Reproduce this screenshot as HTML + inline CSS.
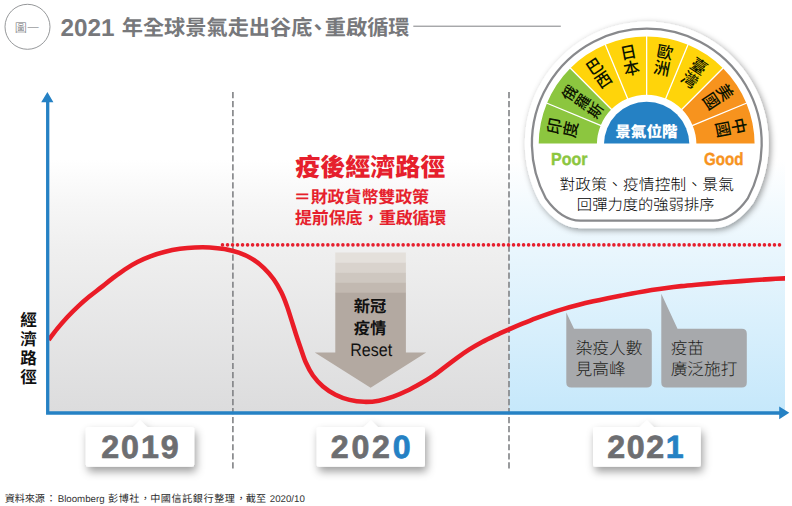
<!DOCTYPE html>
<html lang="zh-Hant">
<head>
<meta charset="utf-8">
<title>2021 年全球景氣走出谷底、重啟循環</title>
<style>
html,body{margin:0;padding:0;background:#fff;}
body{width:792px;height:506px;overflow:hidden;font-family:"Liberation Sans","Noto Sans CJK TC",sans-serif;}
svg{display:block;}
svg text{font-family:"Liberation Sans","Noto Sans CJK TC",sans-serif;text-rendering:geometricPrecision;}
</style>
</head>
<body>
<svg width="792" height="506" viewBox="0 0 792 506">
<defs>
<linearGradient id="gg" x1="0" y1="0" x2="0" y2="1"><stop offset="0" stop-color="#ffffff"/><stop offset="0.18" stop-color="#f6f6f6"/><stop offset="0.36" stop-color="#efefef"/><stop offset="1" stop-color="#dcdcdd"/></linearGradient>
<linearGradient id="gb" x1="0" y1="0" x2="0" y2="1"><stop offset="0" stop-color="#ffffff"/><stop offset="0.18" stop-color="#f3fafe"/><stop offset="0.36" stop-color="#e9f6fd"/><stop offset="1" stop-color="#c6e8fb"/></linearGradient>
<filter id="sh1" x="-10%" y="-10%" width="120%" height="125%"><feDropShadow dx="1.8" dy="2" stdDeviation="3" flood-color="#000" flood-opacity="0.4"/></filter>
<filter id="sh2" x="-20%" y="-40%" width="140%" height="220%"><feDropShadow dx="2" dy="4.8" stdDeviation="4.5" flood-color="#000" flood-opacity="0.38"/></filter>
<clipPath id="fanclip"><rect x="530" y="30" width="232" height="113.6"/></clipPath>
<clipPath id="plotclip"><rect x="48" y="80" width="737" height="340"/></clipPath>
</defs>
<rect x="49" y="160" width="460" height="252" fill="url(#gg)"/>
<rect x="509" y="160" width="276" height="252" fill="url(#gb)"/>
<path d="M232.9 92V469M509 92V469" stroke="#808285" stroke-width="1.6" stroke-dasharray="6.2 2.83" fill="none"/>
<g>
<rect x="335.3" y="252.5" width="70.6" height="10.3" fill="#e4e0db"/>
<rect x="335.3" y="262.6" width="70.6" height="10.3" fill="#d9d3cd"/>
<rect x="335.3" y="272.7" width="70.6" height="10.3" fill="#cec7c0"/>
<rect x="335.3" y="282.8" width="70.6" height="10.3" fill="#c2b9b1"/>
<path d="M335.3 292.8H405.9V352.6H426.2L370.6 387.8L314.8 352.6H335.3Z" fill="#b3a9a1"/>
</g>
<text x="353.78" y="312.39" font-size="16.3" font-weight="bold" fill="#111">新冠</text>
<text x="353.83" y="333.69" font-size="16.3" font-weight="bold" fill="#111">疫情</text>
<text x="350.2" y="355.8" font-size="18" fill="#111" textLength="42" lengthAdjust="spacingAndGlyphs">Reset</text>
<path d="M222.5 244.9H780" stroke="#e61f2d" stroke-width="3.6" stroke-linecap="round" stroke-dasharray="0 5.018" fill="none"/>
<g fill="#a7a9ac">
<path d="M566.3 312.5V382.5Q566.3 387.5 571.3 387.5H646.8Q651.8 387.5 651.8 382.5V333.8Q651.8 328.8 646.8 328.8H574Z"/>
<path d="M661.3 293.8V382.5Q661.3 387.5 666.3 387.5H741.8Q746.8 387.5 746.8 382.5V333.8Q746.8 328.8 741.8 328.8H677.5Z"/>
</g>
<text x="575.68" y="354.25" font-size="16.7" font-weight="300" fill="#231f20">染疫人數</text>
<text x="575.55" y="375.15" font-size="16.7" font-weight="300" fill="#231f20">見高峰</text>
<text x="670.63" y="354.25" font-size="16.7" font-weight="300" fill="#231f20">疫苗</text>
<text x="670.7" y="375.15" font-size="16.7" font-weight="300" fill="#231f20">廣泛施打</text>
<path d="M48.64 339.99C50.12 338.06 54.38 332.24 57.51 328.41C60.64 324.58 63.99 320.67 67.42 316.99C70.85 313.31 74.46 309.74 78.11 306.34C81.76 302.94 85.53 299.72 89.31 296.6C93.09 293.48 96.92 290.64 100.78 287.61C104.64 284.58 108.51 281.4 112.49 278.4C116.47 275.4 120.48 272.32 124.64 269.59C128.8 266.86 133.04 264.28 137.44 262.03C141.84 259.78 146.39 257.79 151.03 256.07C155.67 254.35 160.45 252.92 165.27 251.72C170.09 250.52 175.02 249.59 179.95 248.87C184.88 248.15 189.88 247.66 194.85 247.41C199.82 247.16 204.82 247.12 209.76 247.4C214.7 247.68 219.64 248.19 224.47 249.07C229.3 249.95 234.13 251.05 238.73 252.68C243.33 254.31 247.88 256.29 252.09 258.85C256.3 261.41 260.36 264.61 263.99 268.06C267.62 271.51 270.98 275.5 273.87 279.55C276.76 283.6 279.16 287.95 281.33 292.35C283.5 296.75 285.21 301.33 286.91 305.95C288.61 310.57 289.99 315.33 291.51 320.08C293.03 324.83 294.47 329.66 296.03 334.43C297.59 339.2 299.24 344.01 300.87 348.7C302.5 353.38 303.83 358.08 305.84 362.54C307.85 367 310.08 371.5 312.94 375.49C315.8 379.48 319.24 383.28 322.99 386.48C326.75 389.68 331.06 392.48 335.47 394.71C339.88 396.94 344.67 398.68 349.46 399.87C354.25 401.06 359.27 401.7 364.18 401.83C369.09 401.96 374.07 401.5 378.91 400.65C383.75 399.8 388.54 398.35 393.22 396.71C397.91 395.07 402.52 392.97 407.02 390.81C411.52 388.65 415.91 386.2 420.2 383.75C424.49 381.3 428.63 378.84 432.73 376.08C436.83 373.31 440.81 370.16 444.82 367.16C448.83 364.16 452.77 360.97 456.8 358.06C460.83 355.15 464.85 352.32 469.01 349.69C473.17 347.06 477.42 344.61 481.75 342.28C486.08 339.94 490.52 337.8 495 335.68C499.48 333.56 504.04 331.57 508.6 329.57C513.16 327.57 517.76 325.59 522.38 323.68C527 321.77 531.63 319.88 536.3 318.11C540.96 316.34 545.66 314.63 550.37 313.04C555.08 311.45 559.81 309.97 564.56 308.59C569.31 307.21 574.08 305.95 578.86 304.74C583.64 303.53 588.45 302.42 593.27 301.34C598.09 300.26 602.92 299.25 607.77 298.26C612.62 297.27 617.49 296.32 622.36 295.38C627.23 294.44 632.12 293.51 637.01 292.63C641.9 291.75 646.82 290.89 651.73 290.1C656.64 289.31 661.57 288.57 666.5 287.91C671.43 287.25 676.37 286.66 681.31 286.12C686.25 285.58 691.2 285.13 696.15 284.68C701.1 284.23 706.05 283.84 711 283.44C715.95 283.04 720.91 282.65 725.87 282.27C730.83 281.88 735.78 281.5 740.73 281.13C745.68 280.76 750.63 280.39 755.58 280.05C760.53 279.71 765.46 279.4 770.4 279.11C775.34 278.82 782.73 278.47 785.19 278.34" stroke="#ea1c27" stroke-width="4.55" fill="none" clip-path="url(#plotclip)"/>
<path d="M47.7 100V413H781" stroke="#2581c4" stroke-width="3.3" fill="none" stroke-linejoin="miter"/>
<path d="M47.4 92L53.4 102.2H41.2Z M789.3 412.8L779.2 406.4V419.2Z" fill="#2581c4"/>
<text font-size="16.6" font-weight="bold" fill="#111"><tspan x="20.2" y="325.81">經</tspan><tspan x="20.2" y="344.71">濟</tspan><tspan x="20.2" y="363.61">路</tspan><tspan x="20.2" y="382.51">徑</tspan></text>
<text x="295.18" y="176.3" font-size="25" font-weight="900" fill="#e61f2d">疫後經濟路徑</text>
<text x="293.84" y="202.56" font-size="17" font-weight="bold" fill="#e61f2d" textLength="135.2" lengthAdjust="spacing">＝財政貨幣雙政策</text>
<text x="295.11" y="223.66" font-size="17" font-weight="bold" fill="#e61f2d" textLength="151.1" lengthAdjust="spacing">提前保底，重啟循環</text>
<circle cx="27.5" cy="26.8" r="22.5" fill="#fff" stroke="#8a8c8e" stroke-width="0.9"/>
<text x="14.81" y="31.74" font-size="12.2" font-weight="300" fill="#6d6e71">圖一</text>
<text x="60.4" y="35.6" font-size="24.3" font-weight="bold" fill="#77787b">2021</text>
<text y="34.96" font-size="21.2" font-weight="bold" fill="#77787b"><tspan x="121.72">年全球景氣走出谷底</tspan><tspan x="307.23">、</tspan><tspan x="324.77">重啟循環</tspan></text>
<path d="M413.3 26.2H560.8" stroke="#808285" stroke-width="1"/>
<path d="M540.35 203.2 A122 122 0 1 1 753.25 203.2 Q734.7 228.2 713.45 228.2 H580.15 Q558.9 228.2 540.35 203.2 Z" fill="#fff" filter="url(#sh1)"/>
<path d="M545.97 198.7 A114.9 114.9 0 1 1 747.63 198.7 Q731.99 220.7 713.29 220.7 H580.31 Q561.61 220.7 545.97 198.7 Z" fill="none" stroke="#88898c" stroke-width="2.3"/>
<g clip-path="url(#fanclip)">
<path d="M538.72 146.38A107.95 107.95 0 0 1 546.92 103.19L600.69 125.46A49.75 49.75 0 0 0 596.91 145.37Z" fill="#8cc63f"/>
<path d="M546.92 103.19A107.95 107.95 0 0 1 570.32 68.17L611.47 109.32A49.75 49.75 0 0 0 600.69 125.46Z" fill="#8cc63f"/>
<path d="M570.32 68.17A107.95 107.95 0 0 1 605.34 44.77L627.61 98.54A49.75 49.75 0 0 0 611.47 109.32Z" fill="#ffd40a"/>
<path d="M605.34 44.77A107.95 107.95 0 0 1 646.65 36.55L646.65 94.75A49.75 49.75 0 0 0 627.61 98.54Z" fill="#ffd40a"/>
<path d="M646.65 36.55A107.95 107.95 0 0 1 687.96 44.77L665.69 98.54A49.75 49.75 0 0 0 646.65 94.75Z" fill="#ffd40a"/>
<path d="M687.96 44.77A107.95 107.95 0 0 1 722.98 68.17L681.83 109.32A49.75 49.75 0 0 0 665.69 98.54Z" fill="#ffd40a"/>
<path d="M722.98 68.17A107.95 107.95 0 0 1 746.38 103.19L692.61 125.46A49.75 49.75 0 0 0 681.83 109.32Z" fill="#f7931e"/>
<path d="M746.38 103.19A107.95 107.95 0 0 1 754.58 146.38L696.39 145.37A49.75 49.75 0 0 0 692.61 125.46Z" fill="#f7931e"/>
<path d="M546.46 103L601.15 125.65M569.96 67.81L611.82 109.67M605.15 44.31L627.8 99M646.65 36.05L646.65 95.25M688.15 44.31L665.5 99M723.34 67.81L681.48 109.67M746.84 103L692.15 125.65" stroke="#fff" stroke-width="1.3"/>
<circle cx="646.65" cy="144.5" r="42.7" fill="#2581c4"/>
</g>
<text x="615.27" y="137.25" font-size="15.2" font-weight="900" fill="#fff" textLength="62.4" lengthAdjust="spacingAndGlyphs">景氣位階</text>
<g fill="#0c1400" font-weight="500" text-anchor="middle">
<text transform="translate(554.16 126.1) rotate(-78.75)" x="0" y="6.2" font-size="16.3">印</text>
<text transform="translate(570.15 129.28) rotate(-78.75)" x="0" y="6.2" font-size="16.3">度</text>
<text transform="translate(569.49 92.94) rotate(-56.25)" x="0" y="5.7" font-size="15">俄</text>
<text transform="translate(582.46 101.61) rotate(-56.25)" x="0" y="5.7" font-size="15">羅</text>
<text transform="translate(595.43 110.28) rotate(-56.25)" x="0" y="5.7" font-size="15">斯</text>
<text transform="translate(594.26 66.09) rotate(-33.75)" x="0" y="6.2" font-size="16.3">巴</text>
<text transform="translate(603.32 79.65) rotate(-33.75)" x="0" y="6.2" font-size="16.3">西</text>
<text transform="translate(628.25 52.01) rotate(-11.25)" x="0" y="6.2" font-size="16.3">日</text>
<text transform="translate(631.43 68) rotate(-11.25)" x="0" y="6.2" font-size="16.3">本</text>
<text transform="translate(665.05 52.01) rotate(11.25)" x="0" y="6.2" font-size="16.3">歐</text>
<text transform="translate(661.87 68) rotate(11.25)" x="0" y="6.2" font-size="16.3">洲</text>
<text transform="translate(699.04 66.09) rotate(33.75)" x="0" y="6.2" font-size="16.3">臺</text>
<text transform="translate(689.98 79.65) rotate(33.75)" x="0" y="6.2" font-size="16.3">灣</text>
<text transform="translate(725.06 92.11) rotate(56.25)" x="0" y="6.2" font-size="16.3">美</text>
<text transform="translate(711.5 101.17) rotate(56.25)" x="0" y="6.2" font-size="16.3">國</text>
<text transform="translate(739.14 126.1) rotate(78.75)" x="0" y="6.2" font-size="16.3">中</text>
<text transform="translate(723.15 129.28) rotate(78.75)" x="0" y="6.2" font-size="16.3">國</text>
</g>
<text x="551" y="165.4" font-size="17.5" font-weight="bold" fill="#8cc63f" stroke="#8cc63f" stroke-width="0.4" textLength="36.4" lengthAdjust="spacingAndGlyphs">Poor</text>
<text x="704" y="165.4" font-size="17.5" font-weight="bold" fill="#f7931e" stroke="#f7931e" stroke-width="0.4" textLength="39.4" lengthAdjust="spacingAndGlyphs">Good</text>
<text x="559.45" y="190.25" font-size="15.65" font-weight="300" fill="#000" textLength="174.4" lengthAdjust="spacing">對政策、疫情控制、景氣</text>
<text x="576.84" y="209.81" font-size="15.3" font-weight="300" fill="#000">回彈力度的強弱排序</text>
<path d="M88.3 427H133.2L140.2 420.3L147.2 427H191.7Q194.2 427 194.2 429.5V464.3Q194.2 466.8 191.7 466.8H88.3Q85.8 466.8 85.8 464.3V429.5Q85.8 427 88.3 427Z" fill="#fff" filter="url(#sh2)"/>
<text x="101.2" y="458.3" font-size="32.2" font-weight="bold" fill="#6d6e71" stroke="#6d6e71" stroke-width="0.7" paint-order="stroke" textLength="77.5" lengthAdjust="spacing">2019</text>
<path d="M319.2 427H363.8L370.8 420.3L377.8 427H422.5Q425 427 425 429.5V464.3Q425 466.8 422.5 466.8H319.2Q316.7 466.8 316.7 464.3V429.5Q316.7 427 319.2 427Z" fill="#fff" filter="url(#sh2)"/>
<text x="330.7" y="458.3" font-size="32.2" font-weight="bold" fill="#6d6e71" stroke="#6d6e71" stroke-width="0.7" paint-order="stroke" textLength="80" lengthAdjust="spacing">202<tspan fill="#2581c4" stroke="#2581c4">0</tspan></text>
<path d="M595.5 427H639.7L646.7 420.3L653.7 427H698.3Q700.8 427 700.8 429.5V464.3Q700.8 466.8 698.3 466.8H595.5Q593 466.8 593 464.3V429.5Q593 427 595.5 427Z" fill="#fff" filter="url(#sh2)"/>
<text x="607.3" y="458.3" font-size="32.2" font-weight="bold" fill="#6d6e71" stroke="#6d6e71" stroke-width="0.7" paint-order="stroke" textLength="76.3" lengthAdjust="spacing">202<tspan fill="#2581c4" stroke="#2581c4">1</tspan></text>
<text x="4.82" y="501.54" font-size="10.1" fill="#2b2b2b" textLength="39.9" lengthAdjust="spacing">資料來源</text>
<text x="46" y="501.54" font-size="10.1" fill="#2b2b2b">：</text>
<text x="57.7" y="501.5" font-size="9.7" fill="#333">Bloomberg</text>
<text x="108.08" y="501.54" font-size="10.1" fill="#2b2b2b" textLength="31.2" lengthAdjust="spacing">彭博社</text>
<text x="140.3" y="501.54" font-size="10.1" fill="#2b2b2b">，</text>
<text x="150.13" y="501.54" font-size="10.1" fill="#2b2b2b" textLength="84.8" lengthAdjust="spacing">中國信託銀行整理</text>
<text x="236" y="501.54" font-size="10.1" fill="#2b2b2b">，</text>
<text x="245.83" y="501.54" font-size="10.1" fill="#2b2b2b">截至</text>
<text x="269.8" y="501.5" font-size="9.7" fill="#333">2020/10</text>
</svg>
</body>
</html>
